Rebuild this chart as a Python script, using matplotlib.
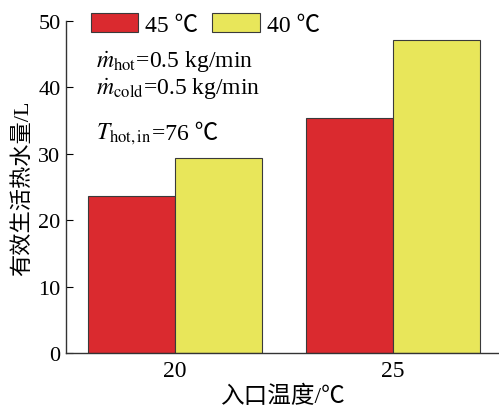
import matplotlib
matplotlib.use("Agg")
import matplotlib.pyplot as plt
import numpy as np

plt.rcParams['font.family'] = ['Liberation Serif', 'Noto Sans CJK SC']
plt.rcParams['mathtext.fontset'] = 'stix'

# data
inlet_temps = ['20', '25']
series_names = ['45 ℃', '40 ℃']
water_45 = [23.6, 35.3]
water_40 = [29.3, 47.1]
colors = ['#da2a2f', '#e8e65a']

fig = plt.figure(figsize=(4.99, 4.10), dpi=100)
ax = fig.add_axes([0.1323, 0.1366, 0.8677, 0.8105])

x = np.arange(len(inlet_temps))
w = 0.4
ax.bar(x - w / 2, water_45, w, color=colors[0], edgecolor='#3a3a3a', linewidth=0.8, label=series_names[0])
ax.bar(x + w / 2, water_40, w, color=colors[1], edgecolor='#3a3a3a', linewidth=0.8, label=series_names[1])

ax.set_xlim(-0.5, 1.485)
ax.set_ylim(0, 50)
ax.set_xticks(x)
ax.set_xticklabels(inlet_temps)
ax.set_yticks([0, 10, 20, 30, 40, 50])
ax.tick_params(axis='y', direction='in', length=5, labelsize=16, pad=4)
ax.tick_params(axis='x', length=0, labelsize=17, pad=5)
ax.spines['top'].set_visible(False)
ax.spines['right'].set_visible(False)
for s in ['left', 'bottom']:
    ax.spines[s].set_color('#333333')
    ax.spines[s].set_linewidth(1.0)

ax.set_ylabel('有效生活热水量/L', fontsize=16, labelpad=4)
ax.set_xlabel('入口温度/℃', fontsize=17, labelpad=3)

fig.legend(loc='upper left', bbox_to_anchor=(0.182, 0.965), ncol=2, frameon=False,
           fontsize=17, handlelength=2.0, handleheight=0.85, handletextpad=0.3,
           columnspacing=0.6, borderpad=0, borderaxespad=0)

ax.text(0.07, 0.86, r'$\dot{m}_{\rm hot}$=0.5 kg/min', transform=ax.transAxes, fontsize=17)
ax.text(0.07, 0.78, r'$\dot{m}_{\rm cold}$=0.5 kg/min', transform=ax.transAxes, fontsize=17)
t1 = ax.text(0.07, 0.645, r'$T_{\rm hot,in}$', transform=ax.transAxes, fontsize=17, va='baseline')
ax.annotate('=76 ℃', xy=(1, 0.645), xycoords=(t1, 'axes fraction'), fontsize=17,
            va='baseline', ha='left')

fig.savefig('out.png', dpi=100)
